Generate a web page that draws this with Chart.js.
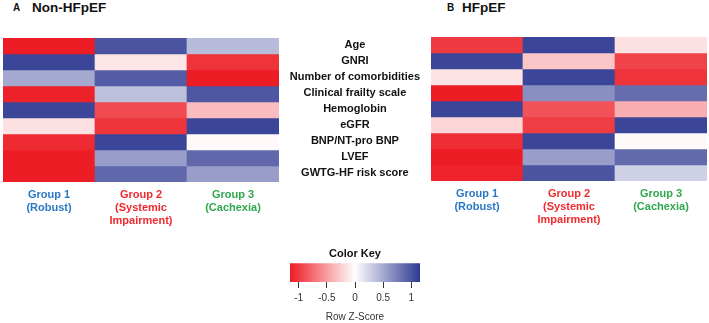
<!DOCTYPE html>
<html><head><meta charset="utf-8">
<script src="https://cdn.jsdelivr.net/npm/chart.js@4.4.1/dist/chart.umd.min.js"></script>
<style>
html,body{margin:0;padding:0;background:#fff;width:709px;height:323px;overflow:hidden;font-family:"Liberation Sans",Arial,sans-serif;}
canvas{position:absolute;}
.t{position:absolute;font-weight:bold;color:#111;line-height:1;white-space:nowrap}
</style></head><body>
<div class="t" style="left:13px;top:3px;font-size:10px">A</div>
<div class="t" style="left:32px;top:1px;font-size:13.5px">Non-HFpEF</div>
<div class="t" style="left:447px;top:3px;font-size:10px">B</div>
<div class="t" style="left:462px;top:1px;font-size:13.5px">HFpEF</div>
<canvas id="ca" width="282" height="240" style="left:0;top:0"></canvas>
<canvas id="cb" width="430" height="240" style="left:279px;top:0"></canvas>
<canvas id="ck" width="170" height="83" style="left:270px;top:240px"></canvas>
<script>
// ---- data ----
const rowNames = ["Age","GNRI","Number of comorbidities","Clinical frailty scale","Hemoglobin","eGFR","BNP/NT-pro BNP","LVEF","GWTG-HF risk score"];
const groupLabels = [["Group 1","(Robust)"],["Group 2","(Systemic","Impairment)"],["Group 3","(Cachexia)"]];
// Row z-scores, panel A (Non-HFpEF)
const nonHfpefGroup1 = [-1.15, 1.08, 0.50, -1.13, 1.08, -0.16, -1.08, -1.15, -1.15];
const nonHfpefGroup2 = [1.00, -0.13, 0.95, 0.37, -0.92, -1.03, 1.08, 0.57, 0.88];
const nonHfpefGroup3 = [0.39, -1.04, -1.15, 0.98, -0.34, 1.08, -0.03, 0.88, 0.57];
// Row z-scores, panel B (HFpEF)
const hfpefGroup1 = [-1.00, 1.08, -0.14, -1.15, 1.08, -0.21, -1.07, -1.15, -1.12];
const hfpefGroup2 = [1.08, -0.29, 1.08, 0.65, -0.88, -0.99, 1.08, 0.57, 1.00];
const hfpefGroup3 = [-0.16, -0.96, -1.04, 0.85, -0.41, 1.08, -0.03, 0.87, 0.27];
const keyTicks = [-1, -0.5, 0, 0.5, 1];
const keyMin = -1.1547, keyMax = 1.1547;

// ---- styling ----
const FAM = '"Liberation Sans", Arial, sans-serif';
const groupColors = ["#2a78c4", "#ee2a2f", "#2fa84f"];
const RED = [237, 28, 36], WHITE = [255, 255, 255], BLUE = [46, 57, 145];
function zColor(z) {
  let t = Math.max(-1, Math.min(1, z / keyMax));
  const end = t < 0 ? RED : BLUE; t = Math.abs(t);
  const c = WHITE.map((w, i) => Math.round(w + (end[i] - w) * t));
  return `rgb(${c[0]},${c[1]},${c[2]})`;
}

function heatmap(id, groups, o) {
  const datasets = rowNames.map((name, r) => ({
    label: name,
    data: groups.map(() => 1),
    backgroundColor: groups.map(g => zColor(g[r])),
    borderWidth: 0,
    barPercentage: 1,
    categoryPercentage: 1
  }));
  const yScale = {
    type: 'linear', stacked: true, min: 0, max: rowNames.length, reverse: true,
    display: o.showY,
    grid: { display: false, drawTicks: false }, border: { display: false },
    afterBuildTicks: ax => { ax.ticks = rowNames.map((_, i) => ({ value: i + 0.5 })); },
    ticks: { crossAlign: 'center', padding: 11, color: '#111',
      font: { family: FAM, size: 11, weight: 'bold' },
      callback: (v, i) => rowNames[i] }
  };
  if (o.showY) yScale.afterFit = s => { s.width = 152; };
  return new Chart(document.getElementById(id), {
    type: 'bar',
    data: { labels: groupLabels, datasets },
    options: {
      responsive: false, animation: false,
      layout: { padding: { left: o.padL, right: o.padR, top: o.top, bottom: 0 } },
      plugins: { legend: { display: false }, tooltip: { enabled: false }, title: { display: false } },
      scales: {
        x: {
          type: 'category', stacked: true,
          grid: { display: false, drawTicks: false }, border: { display: false },
          ticks: { padding: 6, autoSkip: false, maxRotation: 0,
            color: ctx => groupColors[ctx.index],
            font: { family: FAM, size: 11, weight: 'bold', lineHeight: 1.2 } },
          afterFit: s => { s.height = o.xh; }
        },
        y: yScale
      }
    }
  });
}

heatmap('ca', [nonHfpefGroup1, nonHfpefGroup2, nonHfpefGroup3], { padL: 3, padR: 3, top: 38, xh: 58, showY: false });
heatmap('cb', [hfpefGroup1, hfpefGroup2, hfpefGroup3], { padL: 0, padR: 2, top: 37, xh: 59, showY: true });

new Chart(document.getElementById('ck'), {
  type: 'bar',
  data: { labels: ['key'], datasets: [{
    data: [[keyMin, keyMax]],
    borderWidth: 0, barPercentage: 1, categoryPercentage: 1,
    backgroundColor: ctx => {
      const ch = ctx.chart; if (!ch.chartArea) return '#fff';
      const xs = ch.scales.x;
      const g = ch.ctx.createLinearGradient(xs.getPixelForValue(keyMin), 0, xs.getPixelForValue(keyMax), 0);
      for (let i = 0; i <= 20; i++) {
        const v = keyMin + (keyMax - keyMin) * i / 20;
        g.addColorStop(i / 20, zColor(v));
      }
      return g;
    }
  }] },
  options: {
    indexAxis: 'y', responsive: false, animation: false,
    layout: { padding: { left: 20, right: 20, top: 0, bottom: 0 } },
    plugins: { legend: { display: false }, tooltip: { enabled: false },
      title: { display: true, text: 'Color Key', color: '#111',
        font: { family: FAM, size: 11, weight: 'bold' }, padding: { top: 7, bottom: 3 } } },
    scales: {
      x: {
        type: 'linear', min: keyMin, max: keyMax,
        afterBuildTicks: ax => { ax.ticks = keyTicks.map(v => ({ value: v })); },
        grid: { drawOnChartArea: false, drawTicks: true, tickLength: 6, tickColor: '#333', color: '#333' },
        border: { display: false },
        ticks: { padding: 4, color: '#333', font: { family: FAM, size: 10 }, callback: v => String(v) },
        title: { display: true, text: 'Row Z-Score', color: '#333', font: { family: FAM, size: 10 }, padding: { top: 2, bottom: 0 } },
        afterFit: s => { s.height = 41; }
      },
      y: { display: false }
    }
  }
});
</script>
</body></html>
